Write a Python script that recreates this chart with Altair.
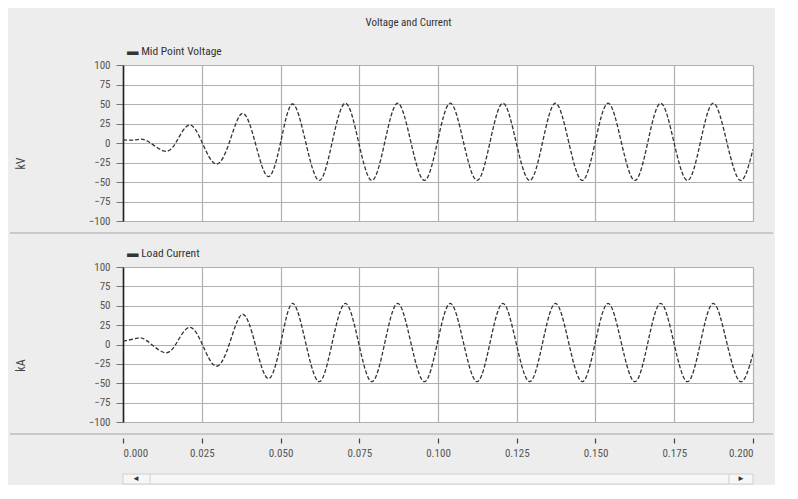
import altair as alt
import pandas as pd

# ---- data ----
x_ticks = [0.000, 0.025, 0.050, 0.075, 0.100, 0.125, 0.150, 0.175, 0.200]
y_ticks = [-100, -75, -50, -25, 0, 25, 50, 75, 100]

volt_t = [0.0000, 0.0040, 0.0075, 0.0128, 0.0167, 0.0210, 0.0252, 0.0295, 0.0337,
          0.0379, 0.0420, 0.0461, 0.0500, 0.0538, 0.0580, 0.0623, 0.0664, 0.0706,
          0.0748, 0.0790, 0.0831, 0.0872, 0.0914, 0.0957, 0.0998, 0.1039, 0.1081,
          0.1124, 0.1165, 0.1206, 0.1248, 0.1291, 0.1332, 0.1373, 0.1415, 0.1458,
          0.1499, 0.1540, 0.1582, 0.1625, 0.1666, 0.1707, 0.1749, 0.1792, 0.1833,
          0.1874, 0.1917, 0.1960, 0.2000]
volt_v = [4, 4, 3, -10, 0, 23, 0, -27, 0,
          38, 0, -43, 0, 50, 1, -48, 1, 51,
          1, -48, 1, 51, 1, -48, 1, 51, 1,
          -48, 1, 51, 1, -48, 1, 51, 1, -48,
          1, 51, 1, -48, 1, 51, 1, -48, 1,
          51, 1, -48, -8]

curr_t = [0.0000, 0.0043, 0.0075, 0.0128, 0.0167, 0.0210, 0.0252, 0.0295, 0.0337,
          0.0379, 0.0420, 0.0461, 0.0500, 0.0538, 0.0580, 0.0623, 0.0664, 0.0706,
          0.0748, 0.0790, 0.0831, 0.0872, 0.0914, 0.0957, 0.0998, 0.1039, 0.1081,
          0.1124, 0.1165, 0.1206, 0.1248, 0.1291, 0.1332, 0.1373, 0.1415, 0.1458,
          0.1499, 0.1540, 0.1582, 0.1625, 0.1666, 0.1707, 0.1749, 0.1792, 0.1833,
          0.1874, 0.1917, 0.1960, 0.2000]
curr_v = [4, 8, 5, -10, 0, 22, 0, -28, 0,
          39, 0, -44, 0, 53, 2, -48, 2, 53,
          2, -48, 2, 53, 2, -48, 2, 53, 2,
          -48, 2, 53, 2, -48, 2, 53, 2, -48,
          2, 53, 2, -48, 2, 53, 2, -48, 2,
          53, 2, -48, -12]

FONT = "Liberation Sans Narrow, Arial Narrow, Roboto Condensed, Liberation Sans, sans-serif"
SEP = "#c9c9c9"
one = alt.Data(values=[{}])


def separator(y):
    # window chrome: thin horizontal divider across the window
    return alt.Chart(one).mark_rule(color=SEP, strokeWidth=2).encode(
        x=alt.value(-113), x2=alt.value(650), y=alt.value(y))


def panel(t, v, title, unit, bottom):
    df = pd.DataFrame({"t": t, "v": v})
    h = 155 if bottom else 156
    if bottom:
        xaxis = alt.Axis(values=x_ticks, format=".3f", title=None, grid=True,
                         domain=False, ticks=True, tickSize=5, tickColor="#444",
                         tickWidth=1.2, labelPadding=4, offset=16,
                         labelFontSize=11, labelColor="#555", labelFont=FONT)
    else:
        xaxis = alt.Axis(values=x_ticks, labels=False, ticks=False, domain=False,
                         title=None, grid=True)
    yaxis = alt.Axis(values=y_ticks, title=unit, titleAngle=270, titleX=-96,
                     titleY=98, titleFontSize=12, titleFontWeight="normal",
                     titleColor="#444", titleFont=FONT,
                     domain=True, domainColor="#222", domainWidth=1.6,
                     tickSize=7, tickColor="#777", labelPadding=6,
                     labelFontSize=11, labelColor="#555", labelFont=FONT)
    line = alt.Chart(df).mark_line(
        interpolate="natural", color="#333333", strokeWidth=1.3,
        strokeDash=[4, 2], clip=True
    ).encode(
        x=alt.X("t:Q", scale=alt.Scale(domain=[0, 0.2], nice=False), axis=xaxis),
        y=alt.Y("v:Q", scale=alt.Scale(domain=[-100, 100], nice=False), axis=yaxis),
    )
    layers = [line, separator(h + 12)]
    if bottom:
        # scroll bar chrome under the time axis
        layers.append(alt.Chart(one).mark_rect(
            fill="#f7f7f7", stroke="#cfcfcf", strokeWidth=1).encode(
            x=alt.value(0), x2=alt.value(630), y=alt.value(207), y2=alt.value(217)))
        layers.append(alt.Chart(one).mark_rule(color="#cfcfcf").encode(
            x=alt.value(27), y=alt.value(207), y2=alt.value(217)))
        layers.append(alt.Chart(one).mark_rule(color="#cfcfcf").encode(
            x=alt.value(606), y=alt.value(207), y2=alt.value(217)))
        layers.append(alt.Chart(one).mark_text(
            text="\u25c4", fontSize=8, color="#333").encode(
            x=alt.value(13), y=alt.value(212)))
        layers.append(alt.Chart(one).mark_text(
            text="\u25ba", fontSize=8, color="#333").encode(
            x=alt.value(618), y=alt.value(212)))
    return alt.layer(*layers).properties(
        width=630, height=h,
        title=alt.TitleParams("\u25ac " + title, anchor="start", frame="group",
                              dx=4, offset=2, fontSize=11.5, fontWeight="normal",
                              color="#333", font=FONT),
    )


top = panel(volt_t, volt_v, "Mid Point Voltage", "kV", False)
bot = panel(curr_t, curr_v, "Load Current", "kA", True)

chart = alt.vconcat(top, bot, spacing=12).properties(
    title=alt.TitleParams("Voltage and Current", anchor="middle", dx=17,
                          fontSize=11, fontWeight="normal", color="#333",
                          font=FONT, offset=17),
    padding={"left": 0, "top": 9, "right": 0, "bottom": 0},
).configure(background="#ededed").configure_view(
    fill="white", stroke="#c4c4c4", strokeWidth=1
).configure_axis(
    gridColor="#b0b0b0", gridWidth=1.2
)

chart.save("out.html", embed_options={"renderer": "svg", "actions": False})
